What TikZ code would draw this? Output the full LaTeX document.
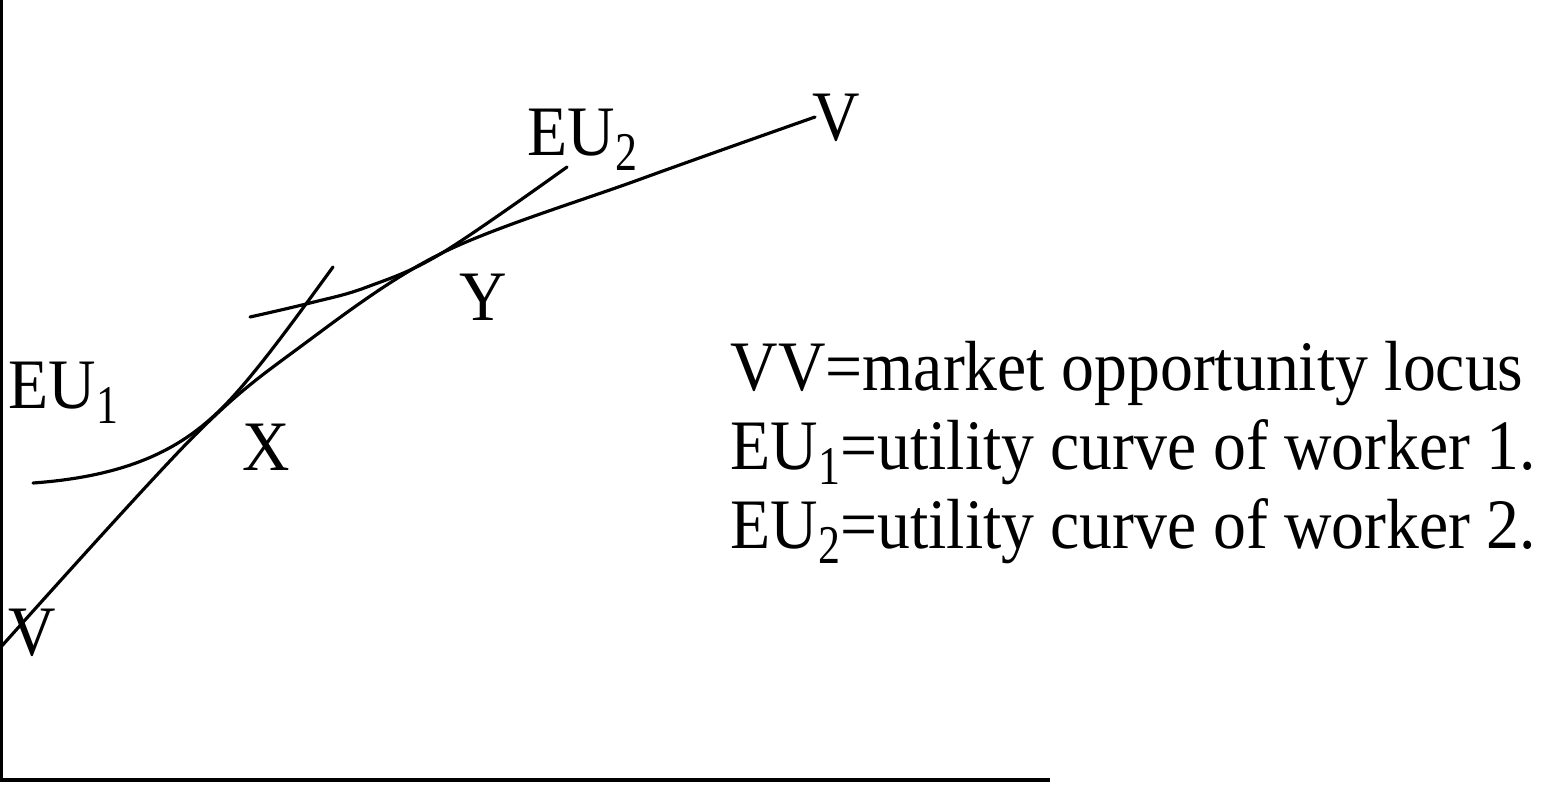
\documentclass[tikz,border=0pt]{standalone}
\usepackage{fontspec}
\setmainfont{Liberation Serif}
\usepackage{tikz}
\usetikzlibrary{positioning}
\newcommand{\lowsub}[1]{\raisebox{-0.145cm}{\scalebox{1}[1.15]{\fontsize{12.5}{13}\selectfont #1}}}
\newcommand{\tall}[1]{\scalebox{1}[1.08]{#1}}
\begin{document}
\begin{tikzpicture}[
  font=\fontsize{18.7}{23}\selectfont,
  curve/.style={black, line width=0.9pt, line cap=round},
  axisline/.style={black, line width=1pt},
  lbl/.style={inner sep=0pt, anchor=base},
  txt/.style={inner sep=0pt, anchor=base west}
]
  \useasboundingbox (0,0) rectangle (15.45,7.84);
  \coordinate (top) at (0.015,7.84);
  \coordinate (org) at (0.015,0.04);
  \coordinate (xend) at (10.5,0.04);
  \draw[axisline] (top) -- (org) -- (xend);
  \draw[curve] plot[smooth, tension=0.55] coordinates
    {(0,1.36) (1.93,3.47) (3.0,4.37) (4.42,5.31) (6.38,6.04) (8.15,6.67)};
  \draw[curve] (0.33,3.01) .. controls (1.3,3.08) and (1.8,3.36) .. (2.17,3.71)
    .. controls (2.5,4.02) and (2.95,4.65) .. (3.33,5.17);
  \draw[curve] plot[smooth, tension=0.6] coordinates
    {(2.50,4.67) (3.10,4.81) (3.67,4.97) (4.42,5.31) (5.67,6.17)};
  \node[lbl] (vtop) at (8.36,6.44) {\tall{V}};
  \node[lbl] (vbot) at (0.32,1.29) {\tall{V}};
  \node[txt] (eutwo) at (5.27,6.29) {\tall{EU\lowsub{2}}};
  \node[txt] (euone) at (0.08,3.76) {\tall{EU\lowsub{1}}};
  \node[lbl] (ylab) at (4.83,4.64) {\tall{Y}};
  \node[lbl] (xlab) at (2.66,3.14) {\tall{X}};
  \node[txt] (leg1) at (7.30,3.94) {\tall{VV=market opportunity locus}};
  \node[txt, below=0.79cm of leg1.base west, anchor=base west] (leg2) {\tall{EU\lowsub{1}=utility curve of worker 1.}};
  \node[txt, below=0.79cm of leg2.base west, anchor=base west] (leg3) {\tall{EU\lowsub{2}=utility curve of worker 2.}};
\end{tikzpicture}
\end{document}
